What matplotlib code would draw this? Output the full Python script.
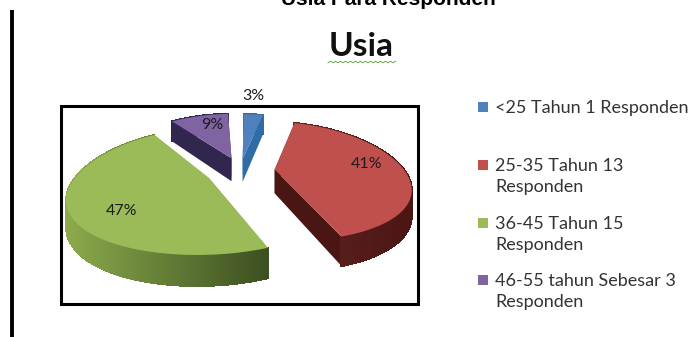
import numpy as np
import matplotlib
matplotlib.use('Agg')
from matplotlib import pyplot as plt
from matplotlib.colors import to_rgb
from matplotlib.patches import Polygon, Rectangle

# age groups and number of respondents
kelompok = ['<25 Tahun 1 Responden', '25-35 Tahun 13\nResponden',
            '36-45 Tahun 15\nResponden', '46-55 tahun Sebesar 3\nResponden']
responden = [1, 13, 15, 3]

warna = ['#4F81BD', '#C0504D', '#9BBB59', '#8064A2']
sisi_terang = ['#2F6CA6', '#5E2320', '#8CAA4C', '#30264E']
sisi_gelap = ['#2F6CA6', '#4A1614', '#3C5020', '#30264E']

# pie projection, in pixels
cx, cy = 240, 171
a, b = 130, 58
kx, ky = 0.27, 0.2
depth = 24
# explode distance and small turn per slice (degrees)
explode = [0.22, 0.27, 0.26, 0.24]
putar = [1, 4, 0, -3]

fig = plt.figure(figsize=(6.96, 3.37), dpi=100)
ax = fig.add_axes([0, 0, 1, 1])
ax.set_xlim(0, 696)
ax.set_ylim(337, 0)
ax.axis('off')


def proj(u, v, turun=0.0):
    sx = 1 / (1 + kx * v)
    sy = 1 / (1 + ky * v)
    return cx + a * u * sx, cy - b * v * sy + turun * sy


def campur(c1, c2, t):
    return tuple(np.array(to_rgb(c1)) * (1 - t) + np.array(to_rgb(c2)) * t)


total = sum(responden)
batas = np.concatenate([[0], np.cumsum(responden)]) / total * 2 * np.pi

# back slices first so the front ones sit on top
for i in [3, 0, 2, 1]:
    t0, t1 = batas[i] + np.radians(putar[i]), batas[i + 1] + np.radians(putar[i])
    mid = (batas[i] + batas[i + 1]) / 2
    ou, ov = explode[i] * np.sin(mid), explode[i] * np.cos(mid)
    th = np.linspace(t0, t1, 120)
    u = ou + np.sin(th)
    v = ov + np.cos(th)
    xt, yt = proj(u, v)
    xb, yb = proj(u, v, depth)
    ax0, ay0 = proj(ou, ov)
    ax1, ay1 = proj(ou, ov, depth)

    # cut faces
    for j in [0, -1]:
        ax.add_patch(Polygon([(ax0, ay0), (xt[j], yt[j]), (xb[j], yb[j]), (ax1, ay1)],
                             fc=sisi_gelap[i] if i == 1 else sisi_terang[i], ec='none', zorder=2))
    # outer wall, shaded left to right
    xmin, xmax = xt.min(), xt.max()
    for j in range(len(th) - 1):
        f = (xt[j] - xmin) / max(xmax - xmin, 1)
        c = campur(sisi_terang[i], sisi_gelap[i], f)
        ax.add_patch(Polygon([(xt[j], yt[j]), (xt[j + 1], yt[j + 1]), (xb[j + 1], yb[j + 1]), (xb[j], yb[j])],
                             fc=c, ec=c, lw=0.8, zorder=2, antialiased=False))
    # top face
    ax.add_patch(Polygon(np.column_stack([np.r_[ax0, xt], np.r_[ay0, yt]]),
                         fc=warna[i], ec='none', zorder=3))

# frame around the pie
ax.add_patch(Rectangle((61, 106), 357, 198, fc='none', ec='black', lw=2.2, zorder=1))
ax.plot([11.5, 11.5], [10, 337], color='black', lw=2.8, solid_capstyle='butt')

# percentage labels
pos_label = [(253, 96), (367, 164), (122, 211), (212, 125)]
for n, (px, py) in zip(responden, pos_label):
    ax.text(px, py, f'{round(n / total * 100)}%', ha='center', va='center',
            fontsize=11.5, family='Lato', color='#1c1c1c', zorder=5)

# titles
ax.text(388, 5, 'Usia Para Responden', ha='center', va='baseline', fontsize=15,
        family='Liberation Sans', weight='bold', color='black')
ax.text(361, 47, 'Usia', ha='center', va='center', fontsize=24,
        family='Lato', weight='bold', color='#111111')
gx = np.arange(328, 396, 2.5)
ax.plot(gx, 62 + 0.8 * (-1.0) ** np.arange(len(gx)), color='#6aa84f', lw=0.7)

# legend
leg_y = [107, 165, 223, 280]
for nama, c, y in zip(kelompok, warna, leg_y):
    ax.add_patch(Rectangle((478, y - 5), 10, 10, fc=c, ec='none'))
    ax.text(495, y - 7, nama, ha='left', va='top', fontsize=13, family='Lato',
            color='#333333', linespacing=1.42)

fig.savefig('out.png', dpi=100)
